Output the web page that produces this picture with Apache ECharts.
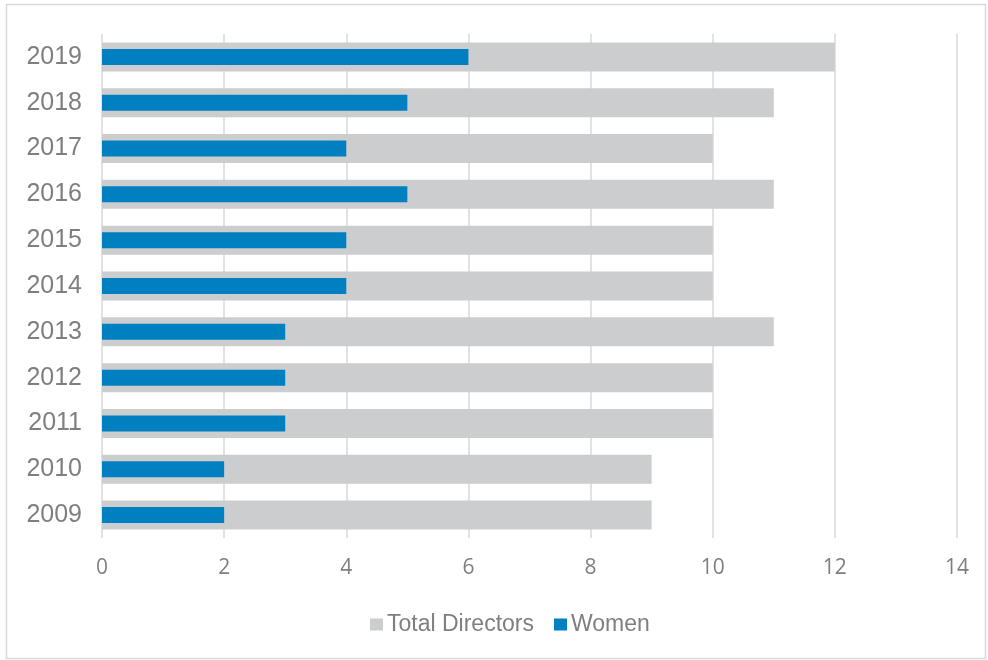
<!DOCTYPE html>
<html><head><meta charset="utf-8">
<script src="https://cdn.jsdelivr.net/npm/echarts@6/dist/echarts.min.js"></script>
<style>html,body{margin:0;padding:0;background:#fff}#c{width:988px;height:660px}</style>
</head><body><div id="c"></div>
<script>
const years = ['2009','2010','2011','2012','2013','2014','2015','2016','2017','2018','2019'];
const totalDirectors = [9,9,10,10,11,10,10,11,10,11,12];
const women = [2,2,3,3,3,4,4,5,4,5,6];
const xTicks = {min:0, max:14, interval:2};

const chart = echarts.init(document.getElementById('c'));
chart.setOption({
  animation:false,
  backgroundColor:'#fff',
  graphic:[{type:'rect',shape:{x:6.5,y:4.5,width:979,height:654},style:{fill:'none',stroke:'#d9d9d9',lineWidth:1.5},silent:true}],
  grid:{left:102,right:31,top:34,bottom:122},
  legend:{
    left:365, top:608, itemWidth:13, itemHeight:12, itemGap:20,
    icon:'rect',
    textStyle:{color:'#7f7f7f',fontSize:23,fontFamily:'Liberation Sans, Arial',padding:[0,0,0,-1]},
    data:['Total Directors','Women']
  },
  xAxis:{
    type:'value', min:xTicks.min, max:xTicks.max, interval:xTicks.interval,
    axisLine:{show:false}, axisTick:{show:false},
    splitLine:{show:true,lineStyle:{color:'#d9d9d9',width:1.5}},
    axisLabel:{color:'#7f7f7f',fontSize:21,fontFamily:'Open Sans',margin:20}
  },
  yAxis:[{
    type:'category', data:years,
    axisLine:{show:false}, axisTick:{show:false},
    axisLabel:{color:'#7f7f7f',fontSize:25,fontFamily:'Liberation Sans, Arial',margin:20}
  },{
    type:'category', data:years, position:'left',
    axisLine:{show:false}, axisTick:{show:false}, axisLabel:{show:false}, splitLine:{show:false}
  }],
  series:[
    {name:'Total Directors',type:'bar',yAxisIndex:0,data:totalDirectors,barWidth:29,itemStyle:{color:'#cccdcf'}},
    {name:'Women',type:'bar',yAxisIndex:1,data:women,barWidth:16,itemStyle:{color:'#0080c0'}}
  ]
});
</script></body></html>
